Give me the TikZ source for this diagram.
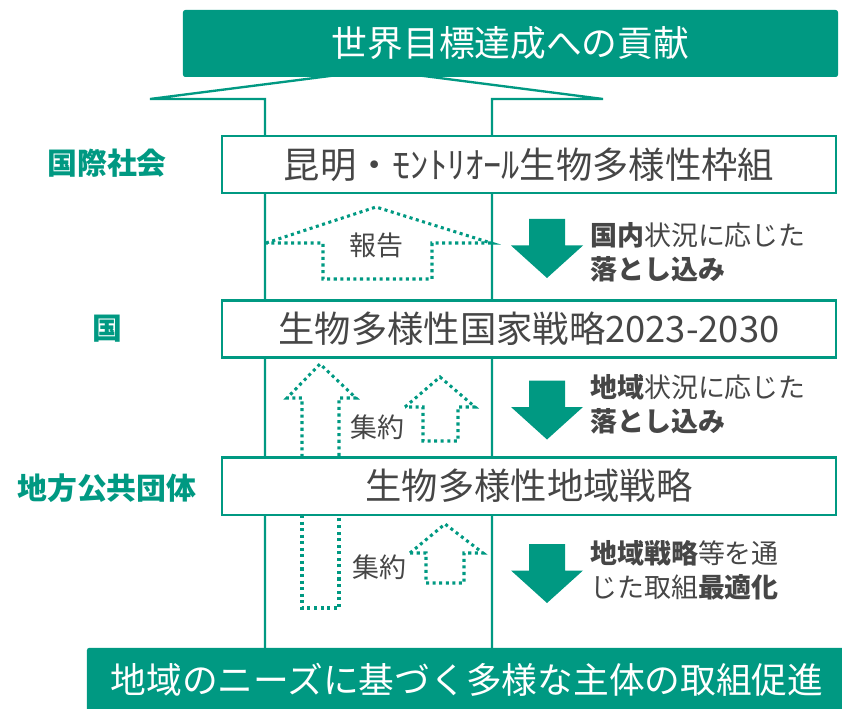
\documentclass[tikz,border=0pt]{standalone}
\usepackage{fontspec}
\setmainfont{Noto Sans CJK JP}
\usetikzlibrary{calc}
\definecolor{kgreen}{RGB}{0,153,130}
\definecolor{kgray}{RGB}{70,70,70}

\begin{document}
\begin{tikzpicture}[x=0.03cm,y=-0.03cm,
	frame/.style={draw=kgreen,line width=2pt},
	layer/.style={draw=kgreen,line width=2pt,fill=white,minimum width=18.42cm,minimum height=1.72cm,inner sep=0pt,text=kgray,font=\fontsize{31pt}{31pt}\selectfont},
	band/.style={fill=kgreen,text=white,rounded corners=2pt,inner sep=0pt,font=\fontsize{30.5pt}{30.5pt}\selectfont},
	level/.style={text=kgreen,font=\bfseries\fontsize{25.5pt}{25.5pt}\selectfont},
	note/.style={anchor=west,align=left,inner sep=0pt,text=kgray,font=\fontsize{23pt}{29pt}\selectfont},
	dotline/.style={draw=kgreen,line width=2.6pt,dash pattern=on 2.6pt off 3pt},
	tag/.style={text=kgray,font=\fontsize{23pt}{23pt}\selectfont}]
	\useasboundingbox (0,0) rectangle (842,709);

	% big outline arrow
	\coordinate (sL) at (265,99);
	\coordinate (sR) at (492,99);
	\coordinate (wL) at (150,99);
	\coordinate (wR) at (603,99);
	\coordinate (apex) at (377,70);
	\draw[frame] (265,650) -- (sL) -- (wL) -- (apex) -- (wR) -- (sR) -- (492,650);

	% dotted arrows
	\draw[dotline] (266,243) -- (376,207) -- (491,243) -- (432,243) -- (432,279) -- (323,279) -- (323,243) -- cycle;
	\draw[dotline] (302,457) -- (302,398) -- (287,398) -- (320,364) -- (356,398) -- (339,398) -- (339,457);
	\draw[dotline] (405,407) -- (440,377) -- (475,407) -- (458,407) -- (458,441) -- (423,441) -- (423,407) -- cycle;
	\draw[dotline] (302,515) -- (302,608) -- (339,608) -- (339,515);
	\draw[dotline] (410,553) -- (445,524) -- (483,553) -- (464,553) -- (464,583) -- (426,583) -- (426,553) -- cycle;

	% boxes
	\node[band,minimum width=19.65cm,minimum height=2.01cm] (goal) at (510.5,43.5) {世界目標達成への貢献};
	\node[layer] (gbf) at (529,164.5) {昆明・ﾓﾝﾄﾘｵｰﾙ生物多様性枠組};
	\node[layer] (nbsap) at (529,329) {生物多様性国家戦略2023-2030};
	\node[layer] (lbsap) at (529,486) {生物多様性地域戦略};
	\node[band,minimum width=22.8cm,minimum height=1.9cm] (base) at (467,679.5) {地域のニーズに基づく多様な主体の取組促進};

	% levels
	\node[level] (intl) at (107,163) {国際社会};
	\node[level] (nation) at (107,329) {国};
	\node[level] (local) at (107,488) {地方公共団体};

	% downward arrows
	\coordinate (d1) at (547,248.5);
	\coordinate (d2) at (547,410);
	\coordinate (d3) at (547,573.5);
	\foreach \d in {d1,d2,d3}
		\fill[kgreen] ($(\d)+(-18,-29.5)$) -- ($(\d)+(18,-29.5)$) -- ($(\d)+(18,-3)$) -- ($(\d)+(36,-3)$)
			-- ($(\d)+(0,29.5)$) -- ($(\d)+(-36,-3)$) -- ($(\d)+(-18,-3)$) -- cycle;

	\node[note] (n1) at (590,252) {\textbf{国内}状況に応じた\\\textbf{落とし込み}};
	\node[note] (n2) at (590,404) {\textbf{地域}状況に応じた\\\textbf{落とし込み}};
	\node[note] (n3) at (590,570) {\textbf{地域戦略}等を通\\じた取組\textbf{最適化}};

	\node[tag] (rep) at (376,245) {報告};
	\node[tag] (agg1) at (377,427) {集約};
	\node[tag] (agg2) at (379,567) {集約};
\end{tikzpicture}
\end{document}
